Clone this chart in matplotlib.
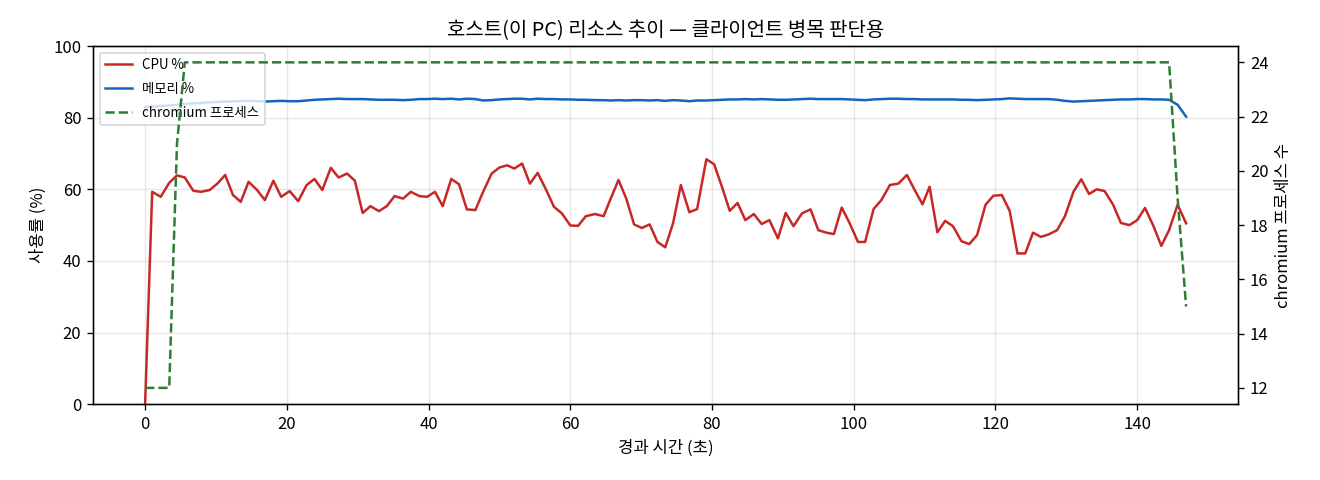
import matplotlib
matplotlib.use("Agg")
from matplotlib import pyplot as plt

plt.rcParams['font.family'] = ['Noto Sans CJK KR', 'DejaVu Sans']
plt.rcParams['axes.unicode_minus'] = False

# elapsed seconds
t = [0.0, 1.0, 2.2, 3.4, 4.5, 5.6, 6.8, 7.9, 9.1, 10.2,
     11.3, 12.4, 13.5, 14.6, 15.8, 16.9, 18.1, 19.2, 20.4, 21.6,
     22.8, 23.9, 25.0, 26.2, 27.3, 28.5, 29.6, 30.7, 31.8, 33.0,
     34.1, 35.2, 36.4, 37.5, 38.7, 39.8, 40.9, 42.0, 43.2, 44.3,
     45.4, 46.6, 47.7, 48.9, 50.0, 51.1, 52.1, 53.2, 54.3, 55.4,
     56.6, 57.7, 58.8, 60.0, 61.1, 62.2, 63.5, 64.7, 65.7, 66.8,
     67.9, 69.0, 70.1, 71.2, 72.3, 73.4, 74.5, 75.6, 76.8, 77.9,
     79.2, 80.3, 81.4, 82.5, 83.6, 84.7, 85.9, 87.0, 88.1, 89.3,
     90.4, 91.5, 92.7, 93.9, 95.0, 96.1, 97.2, 98.3, 99.4, 100.6,
     101.6, 102.8, 103.9, 105.1, 106.3, 107.5, 108.6, 109.7, 110.7, 111.8,
     112.9, 114.0, 115.2, 116.3, 117.4, 118.6, 119.7, 120.9, 122.0, 123.1,
     124.2, 125.3, 126.4, 127.5, 128.7, 129.8, 131.0, 132.1, 133.2, 134.3,
     135.4, 136.6, 137.7, 138.9, 140.0, 141.1, 142.3, 143.4, 144.5, 145.7,
     146.9]

cpu = [0.0, 59.3, 57.9, 61.8, 63.9, 63.3, 59.6, 59.3, 59.8, 61.6,
       64.0, 58.4, 56.5, 62.1, 59.8, 57.0, 62.4, 57.9, 59.5, 56.7,
       61.2, 62.9, 59.8, 66.0, 63.3, 64.4, 62.4, 53.4, 55.3, 53.9,
       55.3, 58.1, 57.4, 59.3, 58.1, 57.9, 59.3, 55.3, 62.9, 61.4,
       54.4, 54.2, 59.3, 64.4, 66.1, 66.7, 65.8, 67.2, 61.6, 64.6,
       59.8, 55.1, 53.3, 49.9, 49.8, 52.5, 53.1, 52.5, 57.4, 62.6,
       57.4, 50.2, 49.2, 50.2, 45.3, 43.8, 50.5, 61.2, 53.6, 54.5,
       68.4, 67.0, 60.7, 54.0, 56.2, 51.4, 53.1, 50.3, 51.4, 46.3,
       53.4, 49.7, 53.3, 54.4, 48.6, 47.9, 47.5, 54.9, 50.6, 45.3,
       45.3, 54.5, 57.0, 61.2, 61.6, 64.0, 59.8, 55.8, 60.7, 48.0,
       51.2, 49.7, 45.5, 44.7, 47.2, 55.7, 58.2, 58.4, 54.0, 42.1,
       42.1, 47.9, 46.7, 47.4, 48.6, 52.5, 59.3, 62.8, 58.7, 60.0,
       59.5, 55.7, 50.6, 50.0, 51.4, 54.8, 49.7, 44.2, 48.6, 55.7,
       50.5]

mem = [83.0, 83.1, 83.3, 83.4, 83.6, 83.8, 84.0, 84.1, 84.3, 84.4,
       84.5, 84.6, 84.6, 84.7, 84.6, 84.5, 84.6, 84.7, 84.6, 84.6,
       84.8, 85.0, 85.1, 85.2, 85.3, 85.2, 85.2, 85.2, 85.1, 85.0,
       85.0, 85.0, 84.9, 85.0, 85.2, 85.2, 85.3, 85.2, 85.3, 85.1,
       85.3, 85.2, 84.8, 84.9, 85.1, 85.2, 85.3, 85.3, 85.1, 85.3,
       85.2, 85.2, 85.1, 85.1, 85.0, 85.0, 84.9, 84.9, 84.8, 84.9,
       84.8, 84.9, 84.9, 84.8, 84.9, 84.7, 84.9, 84.8, 84.6, 84.8,
       84.8, 84.9, 85.0, 85.1, 85.1, 85.2, 85.1, 85.2, 85.1, 85.0,
       85.0, 85.1, 85.2, 85.3, 85.2, 85.2, 85.2, 85.2, 85.1, 85.0,
       84.9, 85.1, 85.2, 85.3, 85.3, 85.2, 85.2, 85.1, 85.1, 85.1,
       85.1, 85.1, 85.0, 85.0, 84.9, 85.0, 85.1, 85.2, 85.4, 85.3,
       85.2, 85.2, 85.2, 85.2, 85.0, 84.7, 84.5, 84.6, 84.7, 84.8,
       84.9, 85.0, 85.1, 85.1, 85.2, 85.2, 85.1, 85.1, 85.0, 83.6,
       80.3]

procs = [12, 12, 12, 12, 21, 24, 24, 24, 24, 24,
         24, 24, 24, 24, 24, 24, 24, 24, 24, 24,
         24, 24, 24, 24, 24, 24, 24, 24, 24, 24,
         24, 24, 24, 24, 24, 24, 24, 24, 24, 24,
         24, 24, 24, 24, 24, 24, 24, 24, 24, 24,
         24, 24, 24, 24, 24, 24, 24, 24, 24, 24,
         24, 24, 24, 24, 24, 24, 24, 24, 24, 24,
         24, 24, 24, 24, 24, 24, 24, 24, 24, 24,
         24, 24, 24, 24, 24, 24, 24, 24, 24, 24,
         24, 24, 24, 24, 24, 24, 24, 24, 24, 24,
         24, 24, 24, 24, 24, 24, 24, 24, 24, 24,
         24, 24, 24, 24, 24, 24, 24, 24, 24, 24,
         24, 24, 24, 24, 24, 24, 24, 24, 24, 19,
         15]

fig, ax = plt.subplots(figsize=(11, 4), dpi=120)
fig.subplots_adjust(left=0.0705, right=0.938, top=0.904, bottom=0.158)

l1, = ax.plot(t, cpu, color='#c62828', lw=1.5, label='CPU %')
l2, = ax.plot(t, mem, color='#1565c0', lw=1.5, label='메모리 %')
ax.set_ylim(0, 100)
ax.set_xlabel('경과 시간 (초)')
ax.set_ylabel('사용률 (%)')
ax.grid(alpha=0.3)

ax2 = ax.twinx()
l3, = ax2.plot(t, procs, color='#2e7d32', lw=1.5, ls='--', label='chromium 프로세스')
ax2.set_ylabel('chromium 프로세스 수')

ax.legend(handles=[l1, l2, l3], loc='upper left', fontsize=8, labelspacing=0.75)
ax.set_title('호스트(이 PC) 리소스 추이 — 클라이언트 병목 판단용')

fig.savefig('out.png')
